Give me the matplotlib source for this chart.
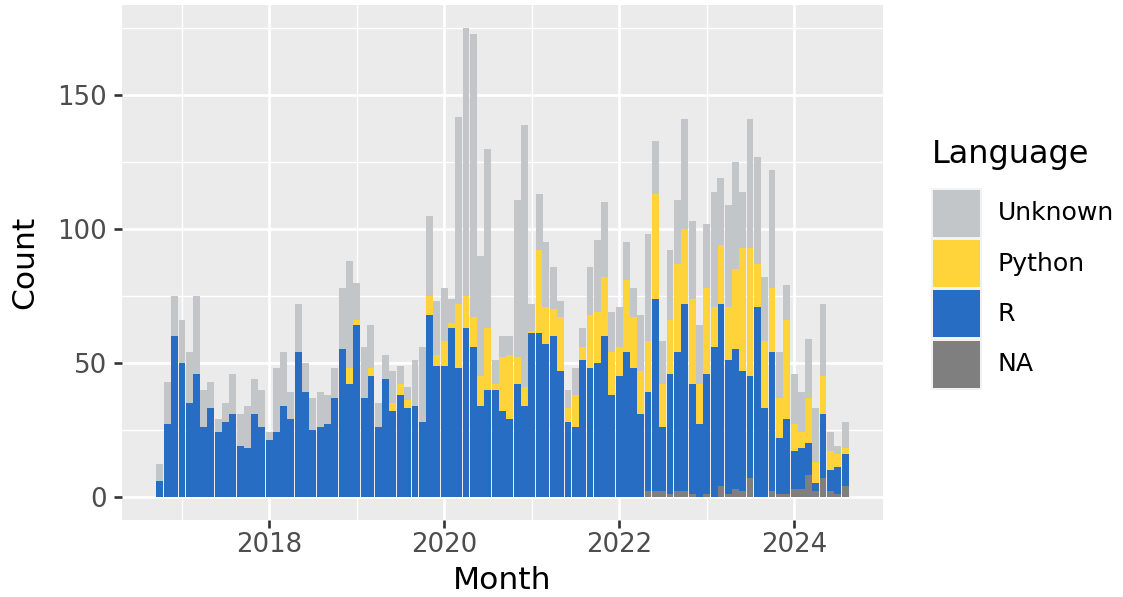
import numpy as np
import pandas as pd
import matplotlib
matplotlib.use("Agg")
import matplotlib.pyplot as plt
import matplotlib.dates as mdates
from matplotlib.patches import Rectangle

# monthly counts, Oct 2016 .. Aug 2024
months = pd.date_range("2016-10-01", "2024-08-01", freq="MS")

na_counts = [0] * 67 + [2, 2, 2, 1, 2, 2, 1, 0, 1, 0, 4, 1, 3, 2, 7,
                        0, 0, 2, 1, 1, 3, 3, 8, 2, 7, 2, 1, 4]
r_counts = [6, 27, 60, 50, 35, 46, 26, 33, 24, 28, 31, 19, 18, 31, 26, 21, 24,
            34, 29, 54, 39, 25, 26, 27, 37, 55, 42, 64, 37, 45, 26, 44, 32,
            38, 33, 34, 28, 68, 49, 49, 63, 48, 63, 56, 34, 40, 40, 32, 29, 42,
            34, 61, 61, 57, 60, 47, 28, 26, 51, 48, 50, 60, 38, 45, 54, 48,
            31, 37, 72, 24, 45, 52, 70, 41, 27, 45, 56, 68, 50, 52, 45, 38,
            71, 33, 52, 21, 28, 14, 15, 12, 3, 24, 8, 10, 12]
python_counts = [0] * 26 + [6, 2, 0, 3, 0, 0, 3,
                            4, 3, 0, 0, 7, 4, 9, 2, 24, 12, 11, 11, 23, 2, 20, 24, 10,
                            7, 1, 31, 14, 10, 20, 5, 12, 5, 20, 19, 22, 16, 11, 27, 19,
                            16, 19, 39, 16, 20, 33, 28, 32, 15, 32, 15, 22, 20, 30, 46, 48,
                            16, 25, 24, 15, 37, 10, 6, 17, 8, 14, 7, 5, 2]
unknown_counts = [6, 16, 15, 16, 19, 29, 14, 10, 5, 7, 15, 12, 16, 13, 14, 3, 24,
                  20, 10, 18, 11, 12, 13, 11, 11, 23, 40, 14, 19, 16, 9, 9, 12,
                  7, 5, 17, 28, 30, 20, 20, 9, 70, 100, 106, 45, 67, 9, 8, 7, 59,
                  98, 10, 21, 24, 16, 6, 7, 10, 7, 18, 27, 28, 15, 15, 14, 11,
                  21, 40, 20, 16, 26, 24, 41, 29, 22, 24, 43, 25, 38, 40, 21, 48,
                  40, 24, 44, 17, 13, 19, 15, 22, 20, 27, 7, 3, 10]

# stacking order bottom -> top
languages = ["NA", "R", "Python", "Unknown"]
series = [na_counts, r_counts, python_counts, unknown_counts]
colors = {"Unknown": "#C3C6C9", "Python": "#FFD43B", "R": "#276DC3", "NA": "#7F7F7F"}

W, H = 1123, 597
fig = plt.figure(figsize=(W / 100, H / 100), dpi=100)
ax = fig.add_axes([122 / W, 1 - 520 / H, (883 - 122) / W, (520 - 5) / H])
ax.set_facecolor("#EBEBEB")
for s in ax.spines.values():
    s.set_visible(False)

bar_w = 29
bottom = np.zeros(len(months))
for lang, vals in zip(languages, series):
    vals = np.array(vals, dtype=float)
    ax.bar(months, vals, width=bar_w, bottom=bottom, color=colors[lang],
           linewidth=0, zorder=2)
    bottom += vals

# ggplot-like 5% expansion
x0 = mdates.date2num(months[0]) - 14
x1 = mdates.date2num(months[-1]) + 14
dx = (x1 - x0) * 0.05
ax.set_xlim(x0 - dx, x1 + dx)
ymax = bottom.max()
ax.set_ylim(-0.05 * ymax, ymax * 1.05)

ax.set_yticks([0, 50, 100, 150])
ax.set_yticks([25, 75, 125, 175], minor=True)
ax.set_xticks([mdates.date2num(pd.Timestamp(f"{y}-01-01")) for y in (2018, 2020, 2022, 2024)])
ax.set_xticks([mdates.date2num(pd.Timestamp(f"{y}-01-01")) for y in (2017, 2019, 2021, 2023)], minor=True)
ax.set_xticklabels(["2018", "2020", "2022", "2024"])
ax.grid(which="major", color="white", linewidth=1.9, zorder=1)
ax.grid(which="minor", color="white", linewidth=0.95, zorder=1)
ax.set_axisbelow(True)
ax.tick_params(which="major", length=6, width=1.9, color="#333333",
               labelcolor="#4D4D4D", labelsize=18.7)
ax.tick_params(axis="x", pad=2.5)
ax.tick_params(axis="y", pad=5)
ax.tick_params(which="minor", length=0)

ax.set_xlabel("Month", fontsize=22.6, labelpad=6)
ax.set_ylabel("Count", fontsize=22.6, labelpad=13)

# legend drawn like ggplot's guide
def fx(px):
    return px / W

def fy(py):
    return 1 - py / H

fig.text(fx(932), fy(155), "Language", fontsize=23, va="center", ha="left")
key_top, key_h, gap = 188, 47, 3.3
order = ["Unknown", "Python", "R", "NA"]
fig.add_artist(Rectangle((fx(931), fy(key_top + len(order) * (key_h + gap) + 1)),
                         fx(982) - fx(931), (len(order) * (key_h + gap) + 1) / H,
                         transform=fig.transFigure, facecolor="#F2F2F2", edgecolor="none"))
for i, lang in enumerate(order):
    top = key_top + 1.7 + i * (key_h + gap)
    fig.add_artist(Rectangle((fx(933.3), fy(top + key_h)), fx(980) - fx(933.3), key_h / H,
                             transform=fig.transFigure, facecolor=colors[lang], edgecolor="none"))
    fig.text(fx(998), fy(top + key_h / 2), lang, fontsize=18.1, va="center", ha="left")

fig.savefig("out.png", dpi=100)
